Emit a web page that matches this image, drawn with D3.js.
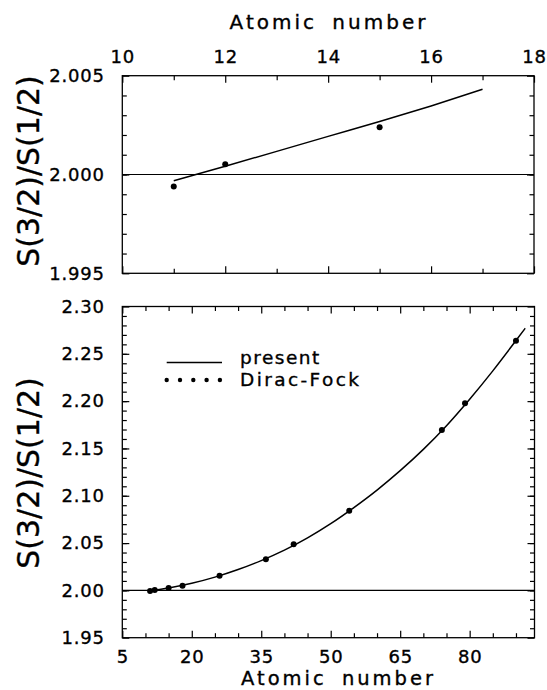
<!DOCTYPE html>
<html>
<head>
<meta charset="utf-8">
<script src="https://cdn.jsdelivr.net/npm/d3@7"></script>
<style>
    body { margin: 0; background: #fff; }
    svg text { font-family: "DejaVu Sans", sans-serif; fill: #000; stroke: #000; stroke-width: 0.35px; }
</style>
</head>
<body>
<svg id="chart" width="547" height="690"></svg>
<script>
// upper panel (light atoms)
const topDfZ = [11, 12, 15];
const topDfRatio = [1.99939, 2.00052, 2.00239];
const topPresentZ = [11, 12, 13, 14, 15, 16, 17];
const topPresentRatio = [1.99968, 2.00042, 2.00117, 2.00193, 2.00268, 2.00347, 2.00431];
const topXLabels = [10, 12, 14, 16, 18];
const topYLabels = [1.995, 2.000, 2.005];

// lower panel (whole range)
const dfZ = [11, 12, 15, 18, 26, 36, 42, 54, 74, 79, 90];
const dfRatio = [1.9994, 2.0005, 2.0024, 2.0050, 2.0155, 2.0328, 2.0487, 2.0842, 2.1695, 2.1977, 2.2639];
const presentZ = [11, 15, 20, 25, 30, 35, 40, 45, 50, 55, 60, 65, 70, 75, 80, 85, 90, 92];
const presentRatio = [1.9997, 2.0026, 2.0075, 2.0140, 2.0220, 2.0315, 2.0425, 2.0555, 2.0705, 2.0875,
    2.1060, 2.1265, 2.1490, 2.1740, 2.2020, 2.2320, 2.2640, 2.2770];
const bottomXLabels = [5, 20, 35, 50, 65, 80];
const bottomYLabels = [1.95, 2.00, 2.05, 2.10, 2.15, 2.20, 2.25, 2.30];

const svg = d3.select("#chart");

function styleTicks(sel) {
    sel.select(".domain").remove();
    sel.selectAll("line").attr("stroke", "#000").attr("stroke-width", 1.2);
    sel.selectAll("text")
        .style("font-size", "18px")
        .style("letter-spacing", "0.8px")
        .attr("fill", "#000");
}

function drawPanel(p) {
    const x = d3.scaleLinear().domain(p.xDomain).range([p.left, p.right]);
    const y = d3.scaleLinear().domain(p.yDomain).range([p.bottom, p.top]);
    const g = svg.append("g");

    const sides = [
        { make: d3.axisTop, scale: x, at: `translate(0,${p.top})`, minor: p.xMinor, major: p.xMajor, lab: p.xLabelSide === "top", fmt: p.xFmt, pad: 13 },
        { make: d3.axisBottom, scale: x, at: `translate(0,${p.bottom})`, minor: p.xMinor, major: p.xMajor, lab: p.xLabelSide === "bottom", fmt: p.xFmt, pad: 12.8 },
        { make: d3.axisLeft, scale: y, at: `translate(${p.left},0)`, minor: p.yMinor, major: p.yMajor, lab: true, fmt: p.yFmt, pad: 17.5 },
        { make: d3.axisRight, scale: y, at: `translate(${p.right},0)`, minor: p.yMinor, major: p.yMajor, lab: false, fmt: p.yFmt, pad: 4 }
    ];

    sides.forEach((s) => {
        // minor ticks, pointing inward
        g.append("g")
            .attr("transform", s.at)
            .call(s.make(s.scale).tickValues(s.minor).tickSize(-4.5).tickFormat(""))
            .call(styleTicks);
        // major ticks, labels only on some sides
        g.append("g")
            .attr("transform", s.at)
            .call(s.make(s.scale).tickValues(s.major).tickSize(-7).tickPadding(s.pad)
                .tickFormat(s.lab ? s.fmt : ""))
            .call(styleTicks);
    });

    // frame
    g.append("rect")
        .attr("x", p.left)
        .attr("y", p.top)
        .attr("width", p.right - p.left)
        .attr("height", p.bottom - p.top)
        .attr("fill", "none")
        .attr("stroke", "#000")
        .attr("stroke-width", 1.3);

    // reference line at ratio 2
    g.append("line")
        .attr("x1", p.left)
        .attr("x2", p.right)
        .attr("y1", y(2))
        .attr("y2", y(2))
        .attr("stroke", "#000")
        .attr("stroke-width", 1.2);

    const line = d3.line()
        .x((d) => x(d[0]))
        .y((d) => y(d[1]))
        .curve(d3.curveMonotoneX);

    g.append("path")
        .datum(p.curveZ.map((z, i) => [z, p.curveV[i]]))
        .attr("d", line)
        .attr("fill", "none")
        .attr("stroke", "#000")
        .attr("stroke-width", 1.5);

    g.selectAll("circle.df")
        .data(p.dotZ.map((z, i) => [z, p.dotV[i]]))
        .enter()
        .append("circle")
        .attr("class", "df")
        .attr("cx", (d) => x(d[0]))
        .attr("cy", (d) => y(d[1]))
        .attr("r", 3)
        .attr("fill", "#000");

    // y title
    g.append("text")
        .attr("transform", `translate(38.5,${p.yTitleY}) rotate(-90)`)
        .attr("text-anchor", "middle")
        .style("font-size", "30px")
        .text("S(3/2)/S(1/2)");

    // x title
    g.append("text")
        .attr("x", p.xTitleX)
        .attr("y", p.xTitleY)
        .attr("text-anchor", "middle")
        .style("font-size", p.xTitleSize)
        .style("letter-spacing", "3px")
        .style("word-spacing", "6px")
        .text("Atomic number");
}

drawPanel({
    left: 122.3, right: 534, top: 75.7, bottom: 273.3,
    xDomain: [10, 18], yDomain: [1.995, 2.005],
    xMinor: d3.range(11, 18, 2), xMajor: topXLabels,
    yMinor: d3.range(1, 10).map((i) => 1.995 + i * 0.001), yMajor: topYLabels,
    xFmt: d3.format("d"), yFmt: d3.format(".3f"), xLabelSide: "top",
    curveZ: topPresentZ, curveV: topPresentRatio,
    dotZ: topDfZ, dotV: topDfRatio,
    yTitleY: 171, xTitleX: 329, xTitleY: 29.3, xTitleSize: "20px"
});

drawPanel({
    left: 122.3, right: 534.5, top: 306.5, bottom: 637.7,
    xDomain: [5, 94], yDomain: [1.95, 2.30],
    xMinor: d3.range(10, 94, 5).filter((v) => !bottomXLabels.includes(v)), xMajor: bottomXLabels,
    yMinor: d3.range(1, 35).map((i) => 1.95 + i * 0.01), yMajor: bottomYLabels,
    xFmt: d3.format("d"), yFmt: d3.format(".2f"), xLabelSide: "bottom",
    curveZ: presentZ, curveV: presentRatio,
    dotZ: dfZ, dotV: dfRatio,
    yTitleY: 473, xTitleX: 338.5, xTitleY: 685, xTitleSize: "19.5px"
});

// legend
const legend = svg.append("g");
legend.append("line")
    .attr("x1", 166.7).attr("x2", 222)
    .attr("y1", 362.5).attr("y2", 362.5)
    .attr("stroke", "#000").attr("stroke-width", 1.3);
legend.selectAll("circle")
    .data(d3.range(5))
    .enter()
    .append("circle")
    .attr("cx", (d) => 166.7 + d * 13.3)
    .attr("cy", 380)
    .attr("r", 2.2)
    .attr("fill", "#000");
legend.append("text")
    .attr("x", 240).attr("y", 363.5)
    .style("font-size", "18.5px").style("letter-spacing", "1.5px")
    .text("present");
legend.append("text")
    .attr("x", 240).attr("y", 385.5)
    .style("font-size", "18.5px").style("letter-spacing", "2.4px")
    .text("Dirac-Fock");
</script>
</body>
</html>
